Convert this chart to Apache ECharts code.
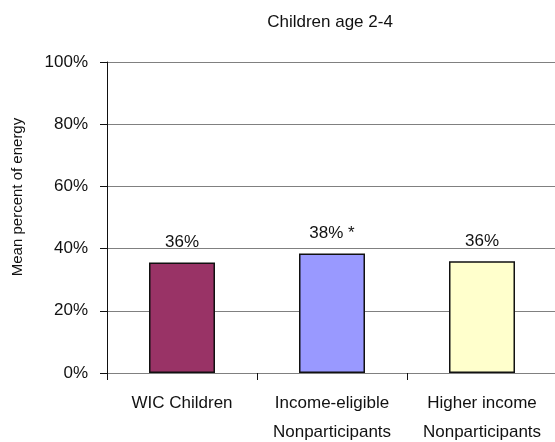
<!DOCTYPE html>
<html>
<head>
<meta charset="utf-8">
<script src="https://cdn.jsdelivr.net/npm/echarts@6/dist/echarts.min.js"></script>
<style>
html,body{margin:0;padding:0;background:#fff;}
#chart{width:555px;height:442px;}
</style>
</head>
<body>
<div id="chart"></div>
<script>
var categories = ['WIC Children', 'Income-eligible\nNonparticipants', 'Higher income\nNonparticipants'];
var values = [35.5, 38.4, 35.9];
var valueLabels = ['36%', '38% *', '36%'];
var barColors = ['#993366', '#9999FF', '#FFFFCC'];
var yTicks = [0, 20, 40, 60, 80, 100];
var titleText = 'Children age 2-4';
var yName = 'Mean percent of energy';

var FONT = '"Liberation Sans", Arial, sans-serif';
var chart = echarts.init(document.getElementById('chart'), null, {renderer: 'canvas'});
chart.setOption({
  animation: false,
  backgroundColor: '#fff',
  textStyle: {fontFamily: FONT},
  graphic: [
    {type: 'text', x: 330, y: 22, style: {text: titleText, font: '17px ' + FONT, fill: '#111', textAlign: 'center', textVerticalAlign: 'middle'}},
    {type: 'text', rotation: Math.PI / 2, x: 18, y: 197, style: {text: yName, font: '15px ' + FONT, fill: '#111', textAlign: 'center', textVerticalAlign: 'middle'}}
  ],
  grid: {left: 107, top: 62, width: 450, height: 311, containLabel: false, outerBoundsMode: 'none'},
  xAxis: {
    type: 'category',
    data: categories,
    axisLine: {lineStyle: {color: '#808080', width: 1}},
    axisTick: {show: true, length: 7, lineStyle: {color: '#111'}},
    axisLabel: {color: '#111', fontSize: 17, fontFamily: FONT, margin: 16, lineHeight: 29, interval: 0}
  },
  yAxis: {
    type: 'value',
    min: 0, max: 100, interval: 20,
    axisLine: {show: true, lineStyle: {color: '#111', width: 1}},
    axisTick: {show: true, length: 7, lineStyle: {color: '#111'}},
    axisLabel: {color: '#111', fontSize: 17, fontFamily: FONT, margin: 19, formatter: function (v) { return yTicks.indexOf(v) >= 0 ? v + '%' : ''; }},
    splitLine: {show: true, lineStyle: {color: '#808080', width: 1}}
  },
  series: [{
    type: 'bar',
    barWidth: 66,
    data: values.map(function (v, i) {
      return {value: v, itemStyle: {color: barColors[i], borderColor: '#111', borderWidth: 1.5},
        label: {show: true, position: 'top', distance: 12, formatter: valueLabels[i], color: '#111', fontSize: 17, fontFamily: FONT}};
    })
  }]
});
</script>
</body>
</html>
